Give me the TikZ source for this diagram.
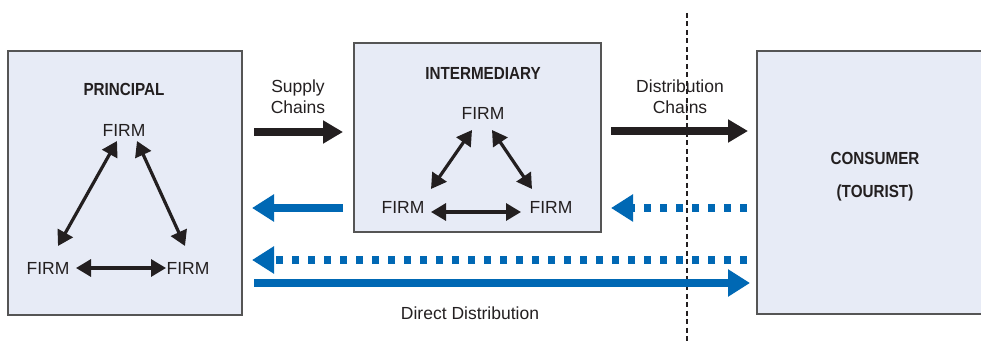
\documentclass[tikz,border=0pt]{standalone}
\usepackage{fontspec}
\setmainfont{Liberation Sans}
\newfontfamily\cnb[FakeStretch=0.87]{Liberation Sans}
\usetikzlibrary{arrows.meta}
\definecolor{boxfill}{HTML}{E7EBF6}
\definecolor{boxline}{HTML}{555555}
\definecolor{dblue}{HTML}{0068B4}
\definecolor{dark}{HTML}{231F20}
\begin{document}
\begin{tikzpicture}[x=1pt,y=-1pt,
  panel/.style={draw=boxline,line width=1.4pt,fill=boxfill},
  lbl/.style={font=\fontsize{17.5}{21}\selectfont,text=dark,inner sep=0pt,align=center},
  ttl/.style={font=\fontsize{17.5}{33}\selectfont\cnb\bfseries,text=dark,inner sep=0pt,align=center},
  dbl/.style={draw=dark,line width=3.2pt,{Triangle[length=15pt,width=17pt]}-{Triangle[length=15pt,width=17pt]}},
  bigblack/.style={draw=dark,line width=7.5pt,-{Triangle[length=20pt,width=22pt]}},
  bigblue/.style={draw=dblue,line width=7.5pt,-{Triangle[length=22pt,width=26pt]}},
  dotblue/.style={bigblue,dash pattern=on 7.5pt off 8.5pt}]
\useasboundingbox (0,0) rectangle (981,344);
% boxes
\node[panel,minimum width=234pt,minimum height=264pt,inner sep=0pt] (prin) at (125,183) {};
\node[panel,minimum width=247pt,minimum height=189pt,inner sep=0pt] (inter) at (477.5,137.5) {};
\draw[panel] (757,51) rectangle (982,314);
\coordinate (cons) at (757,51);
% dashed vertical line
\coordinate (vt) at (687,13);
\coordinate (vb) at (687,344);
\draw[dark,line width=1.3pt,dash pattern=on 5pt off 3.5pt] (vt) -- (vb);
% principal
\node[ttl] (ptitle) at (124,89) {PRINCIPAL};
\node[lbl] (pf1) at (124,130) {FIRM};
\node[lbl] (pf2) at (48,268) {FIRM};
\node[lbl] (pf3) at (188,268) {FIRM};
\coordinate (pa1) at (117,141);
\coordinate (pa2) at (58,246);
\coordinate (pa3) at (137,141);
\coordinate (pa4) at (185,246);
\coordinate (pa5) at (76,268);
\coordinate (pa6) at (166,268);
\draw[dbl] (pa1) -- (pa2);
\draw[dbl] (pa3) -- (pa4);
\draw[dbl] (pa5) -- (pa6);
% intermediary
\node[ttl] (ititle) at (483,73) {INTERMEDIARY};
\node[lbl] (if1) at (483,113) {FIRM};
\node[lbl] (if2) at (403,207) {FIRM};
\node[lbl] (if3) at (551,207) {FIRM};
\coordinate (ia1) at (472,130);
\coordinate (ia2) at (431,189);
\coordinate (ia3) at (492,130);
\coordinate (ia4) at (532,189);
\coordinate (ia5) at (431,212);
\coordinate (ia6) at (521,212);
\draw[dbl] (ia1) -- (ia2);
\draw[dbl] (ia3) -- (ia4);
\draw[dbl] (ia5) -- (ia6);
% consumer
\node[ttl] (ctitle) at (875,177) {CONSUMER\\(TOURIST)};
% labels
\node[lbl] (supply) at (298,97) {Supply\\Chains};
\node[lbl] (distr) at (680,97) {Distribution\\Chains};
\node[lbl] (direct) at (470,313) {Direct Distribution};
% flows
\coordinate (s1) at (254,132);
\coordinate (s2) at (343,132);
\coordinate (d1) at (611,131);
\coordinate (d2) at (748,131);
\coordinate (b1) at (343,208);
\coordinate (b2) at (252,208);
\coordinate (c1) at (747,208);
\coordinate (c2) at (611,208);
\coordinate (l1) at (747,260);
\coordinate (l2) at (252,260);
\coordinate (r1) at (254,283);
\coordinate (r2) at (750,283);
\draw[bigblack] (s1) -- (s2);
\draw[bigblack] (d1) -- (d2);
\draw[bigblue] (b1) -- (b2);
\draw[dotblue] (c1) -- (c2);
\draw[dotblue] (l1) -- (l2);
\draw[bigblue] (r1) -- (r2);
\end{tikzpicture}
\end{document}
